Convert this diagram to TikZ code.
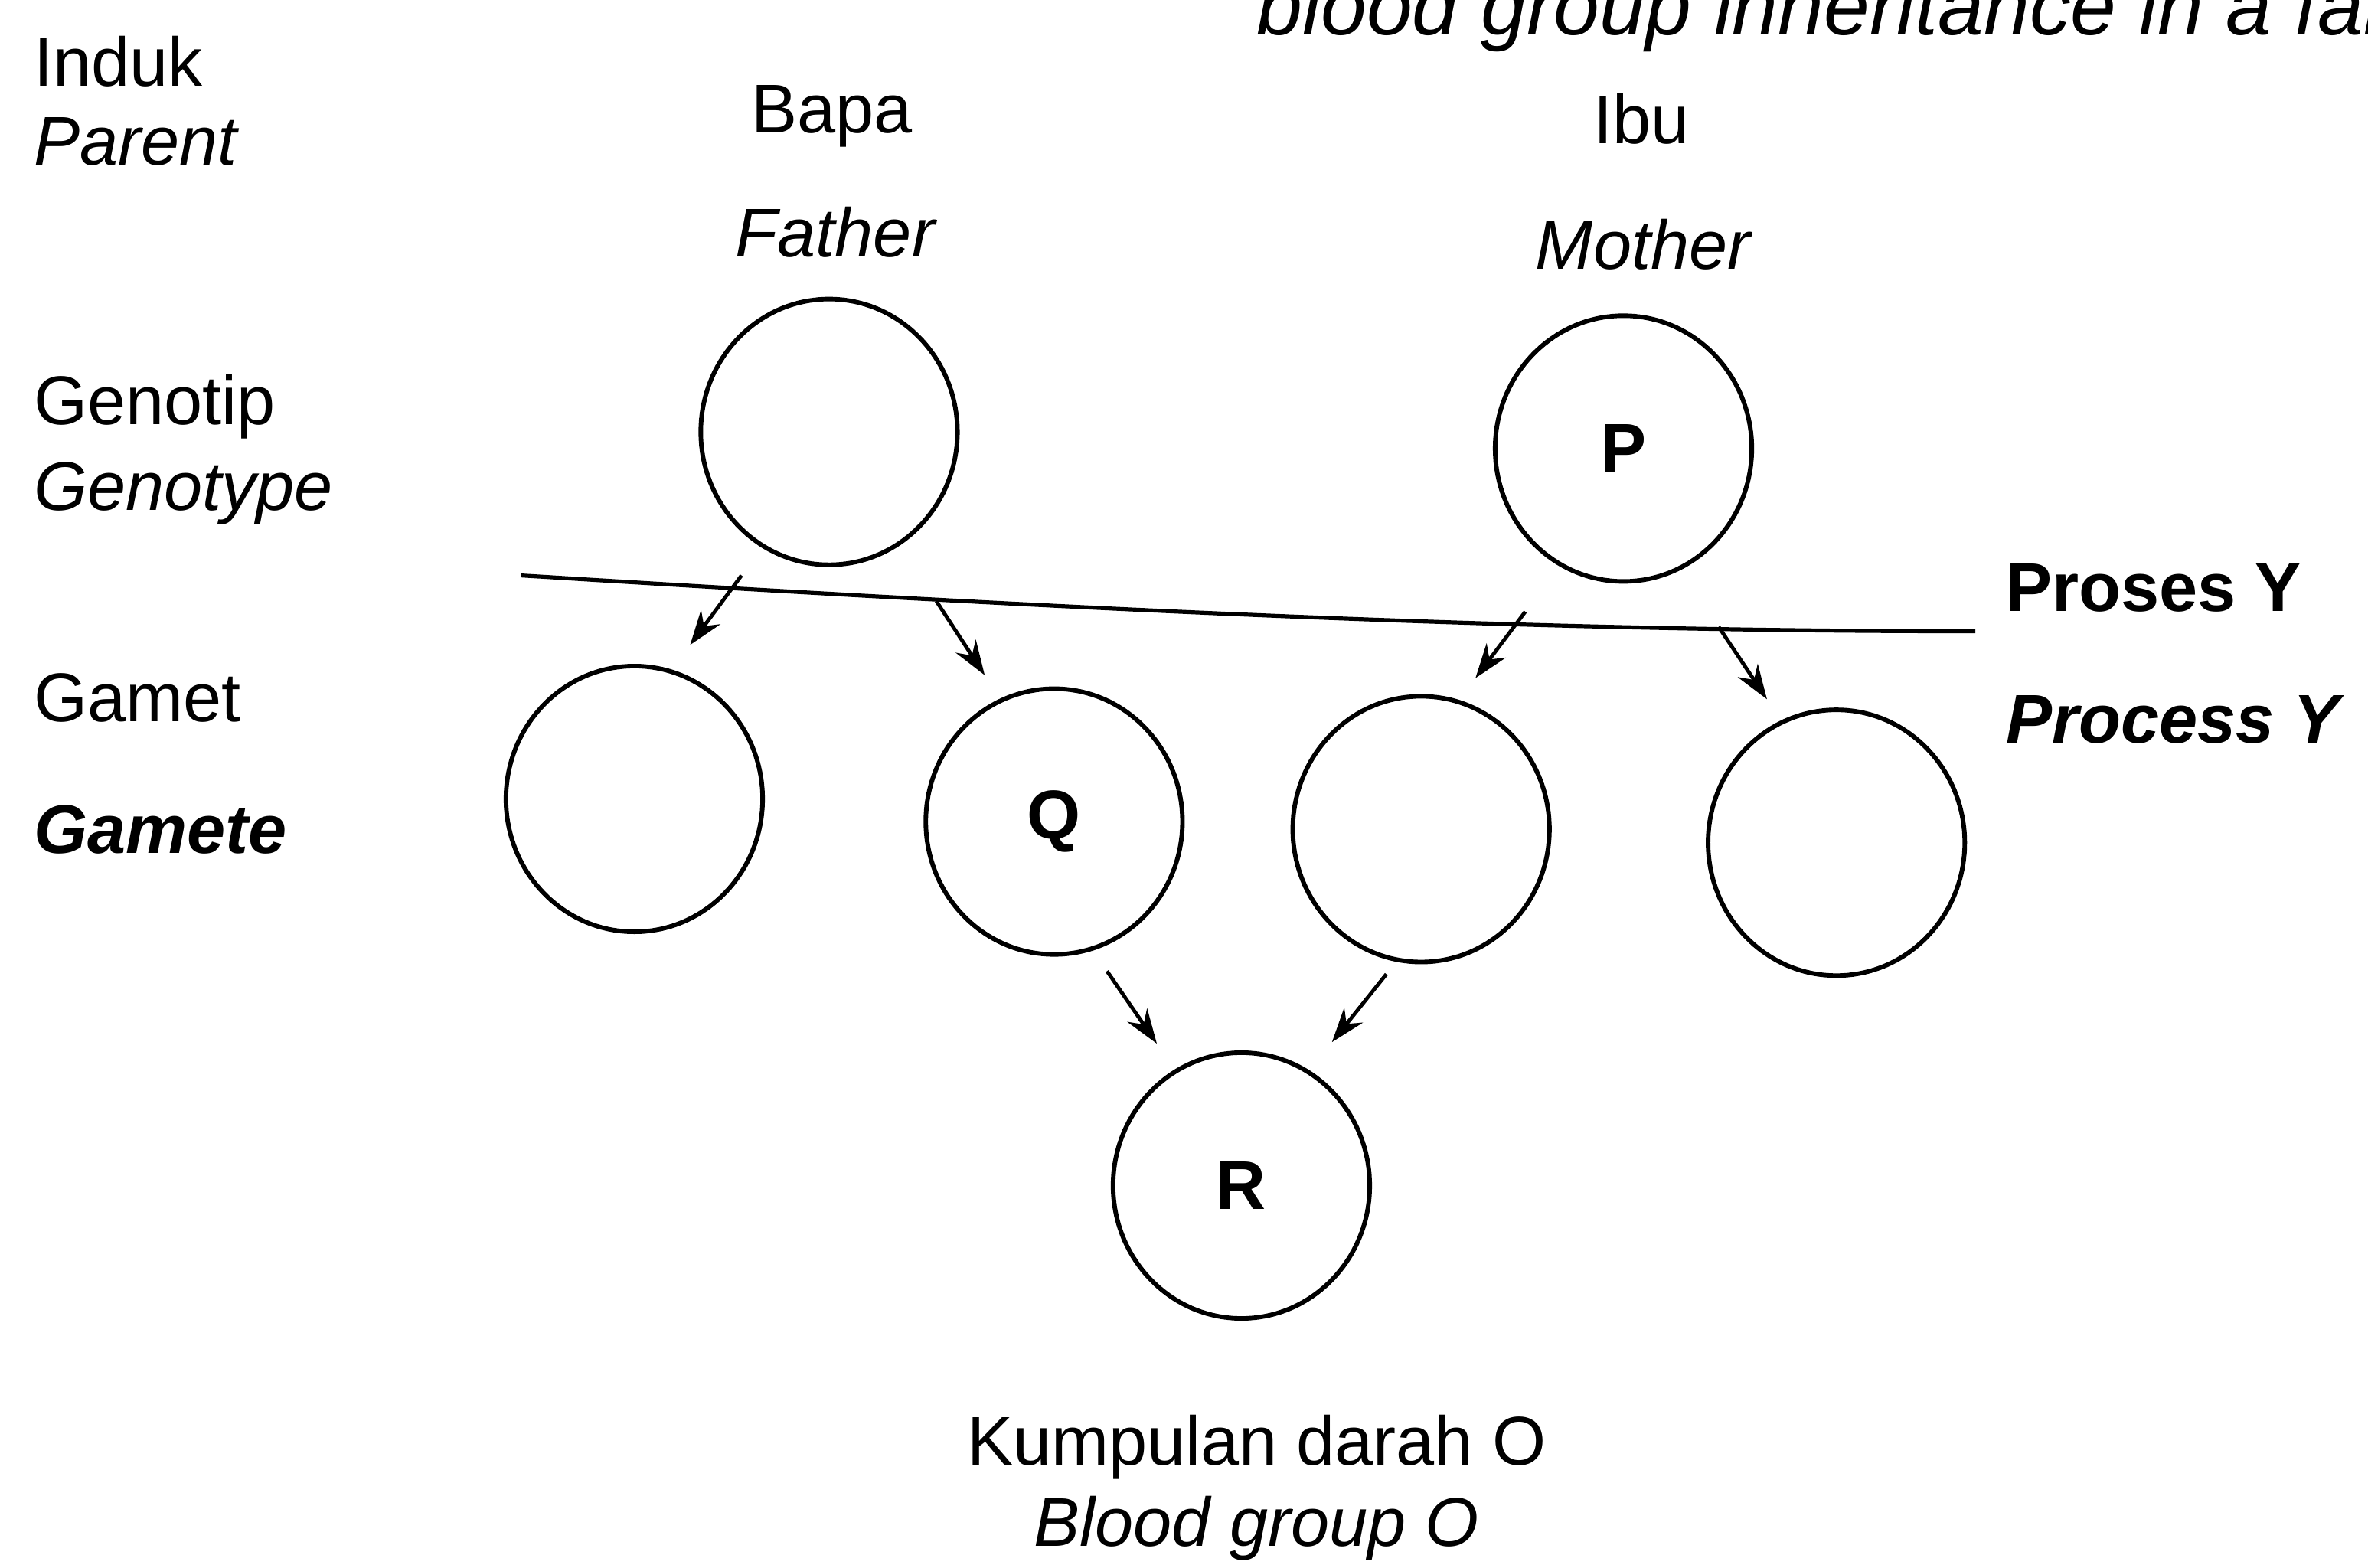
\documentclass[tikz,border=0pt]{standalone}
\usepackage{fontspec}
\setmainfont{Liberation Sans}
\usetikzlibrary{shapes.geometric,arrows.meta}
\begin{document}
\begin{tikzpicture}[x=0.02cm,y=-0.02cm,
  lbl/.style={anchor=base west,inner sep=0,font=\fontsize{26}{31}\selectfont},
  clbl/.style={anchor=base,inner sep=0,font=\fontsize{26}{31}\selectfont},
  cell/.style={draw,ellipse,line width=1.7pt,minimum width=3.4cm,minimum height=3.52cm,inner sep=0,font=\fontsize{26}{31}\selectfont\bfseries},
  arr/.style={line width=1.4pt,-{Stealth[length=13pt,width=9pt]}}]
\useasboundingbox (0,0) rectangle (1568,1038);
\begin{scope}
\clip (0,0) rectangle (1568,1038);
\node[lbl,font=\fontsize{31}{36}\selectfont\itshape] (title) at (832,23) {blood group inheritance in a family};
\end{scope}
% left labels
\node[lbl] (induk) at (22,57) {Induk};
\node[lbl,font=\fontsize{26}{31}\selectfont\itshape] (parent) at (22,109) {Parent};
\node[lbl] (genotip) at (22,281) {Genotip};
\node[lbl,font=\fontsize{26}{31}\selectfont\itshape] (genotype) at (22,338) {Genotype};
\node[lbl] (gamet) at (22,478) {Gamet};
\node[lbl,font=\fontsize{26}{31}\selectfont\bfseries\itshape] (gamete) at (22,565) {Gamete};
% parents
\node[clbl] (bapa) at (551,88) {Bapa};
\node[clbl,font=\fontsize{26}{31}\selectfont\itshape] (father) at (553,170) {Father};
\node[clbl] (ibu) at (1087,95) {Ibu};
\node[clbl,font=\fontsize{26}{31}\selectfont\itshape] (mother) at (1088,178) {Mother};
% genotype circles
\node[cell] (fg) at (549,286) {};
\node[cell] (mg) at (1075,297) {P};
% process line
\coordinate (ls) at (345,381);
\coordinate (le) at (1308,418);
\draw[line width=1.5pt] (ls) .. controls (700,403) and (1000,418) .. (le);
\node[lbl,font=\fontsize{26}{31}\selectfont\bfseries] (proses) at (1328,405) {Proses Y};
\node[lbl,font=\fontsize{26}{31}\selectfont\bfseries\itshape] (process) at (1328,492) {Process Y};
% gametes
\node[cell] (g1) at (420,529) {};
\node[cell] (g2) at (698,544) {Q};
\node[cell] (g3) at (941,549) {};
\node[cell] (g4) at (1216,558) {};
% arrows from line to gametes
\coordinate (a1s) at (491,381); \coordinate (a1e) at (457,427);
\coordinate (a2s) at (620,398); \coordinate (a2e) at (652,447);
\coordinate (a3s) at (1010,405); \coordinate (a3e) at (977,449);
\coordinate (a4s) at (1138,415); \coordinate (a4e) at (1170,463);
\draw[arr] (a1s) -- (a1e);
\draw[arr] (a2s) -- (a2e);
\draw[arr] (a3s) -- (a3e);
\draw[arr] (a4s) -- (a4e);
% offspring
\node[cell] (r) at (822,785) {R};
\coordinate (b1s) at (733,643); \coordinate (b1e) at (766,691);
\coordinate (b2s) at (918,645); \coordinate (b2e) at (882,690);
\draw[arr] (b1s) -- (b1e);
\draw[arr] (b2s) -- (b2e);
\node[clbl] (kump) at (832,970) {Kumpulan darah O};
\node[clbl,font=\fontsize{26}{31}\selectfont\itshape] (blood) at (832,1024) {Blood group O};
\end{tikzpicture}
\end{document}
